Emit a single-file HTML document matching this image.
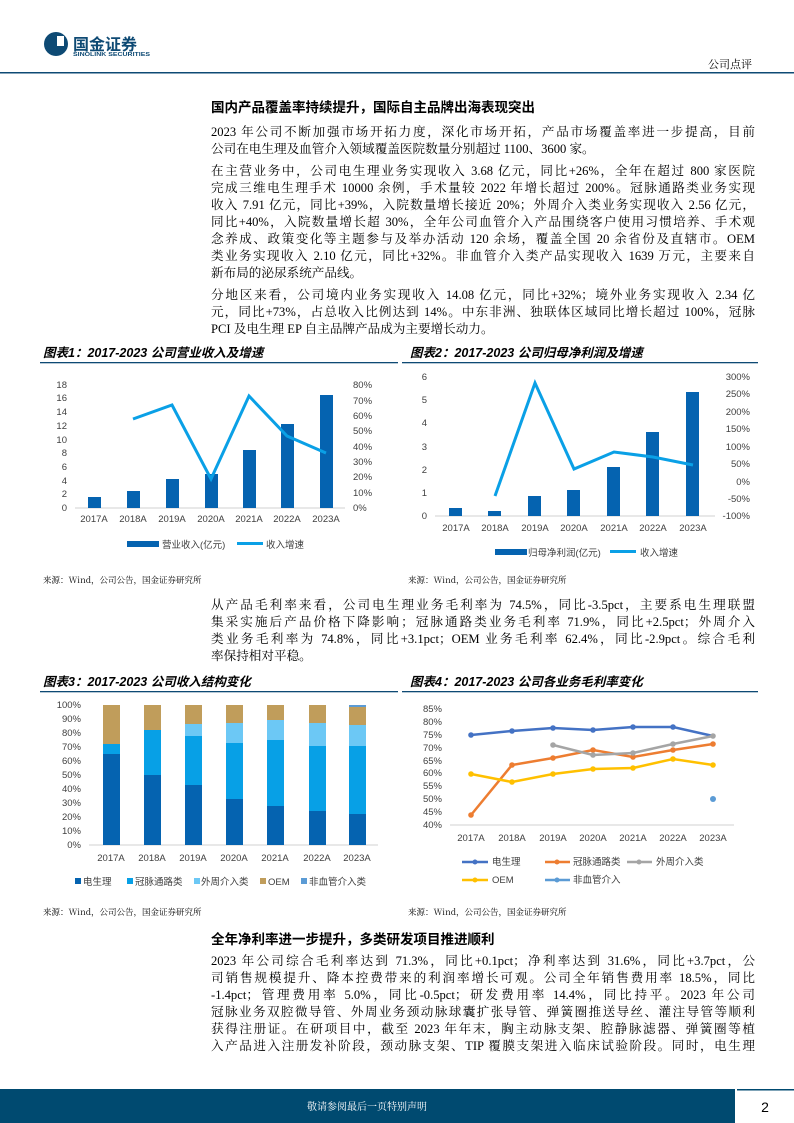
<!DOCTYPE html>
<html><head><meta charset="utf-8">
<style>
body{margin:0;background:#fff;}
#p{position:relative;width:794px;height:1123px;overflow:hidden;font-family:"Liberation Serif","Noto Serif CJK SC",serif;color:#000;}
.l{position:absolute;left:211px;width:544px;font-size:12.6px;line-height:17px;height:17px;text-align:justify;text-align-last:justify;white-space:nowrap;}
.n{text-align-last:left;}
.h{position:absolute;left:211px;font-size:13.5px;font-weight:bold;line-height:17px;font-family:"Liberation Sans","Noto Sans CJK SC",sans-serif;}
svg{position:absolute;left:0;top:0;}
svg text{font-family:"Liberation Sans","Noto Sans CJK SC",sans-serif;}
</style></head><body><div id="p">
<svg width="794" height="1123" viewBox="0 0 794 1123">
<!-- header -->
<circle cx="56" cy="44" r="12" fill="#0e4a74"/>
<rect x="57" y="36" width="7" height="10" fill="#fff"/>
<text x="73" y="50" font-size="16" font-weight="bold" fill="#0e4a74" textLength="64">国金证券</text>
<text x="73" y="56" font-size="5.5" font-weight="bold" fill="#0e4a74" textLength="77" lengthAdjust="spacingAndGlyphs">SINOLINK SECURITIES</text>
<text x="752" y="68" font-size="11" text-anchor="end" fill="#000" style="font-family:'Noto Serif CJK SC',serif">公司点评</text>
<rect x="0" y="72" width="794" height="1.5" fill="#0e4a74"/>
<!-- footer -->
<rect x="0" y="1089" width="735" height="34" fill="#004a70"/>
<rect x="737" y="1089" width="57" height="1.5" fill="#004a70"/>
<text x="367" y="1110" font-size="10" fill="#fff" text-anchor="middle" style="font-family:'Noto Serif CJK SC',serif">敬请参阅最后一页特别声明</text>
<text x="765" y="1112" font-size="14" fill="#000" text-anchor="middle">2</text>

<!-- chart titles -->
<g font-size="12.5" font-weight="bold" font-style="italic">
<text x="43" y="357">图表1：2017-2023 公司营业收入及增速</text>
<text x="410" y="357">图表2：2017-2023 公司归母净利润及增速</text>
<text x="43" y="686">图表3：2017-2023 公司收入结构变化</text>
<text x="410" y="686">图表4：2017-2023 公司各业务毛利率变化</text>
</g>
<g fill="#0e4a74">
<rect x="40" y="362" width="358" height="1.3"/><rect x="402" y="362" width="356" height="1.3"/>
<rect x="40" y="691" width="358" height="1.3"/><rect x="402" y="691" width="356" height="1.3"/>
</g>
<g font-size="8.5">
<text x="43" y="583" style="font-family:'Noto Serif CJK SC',serif">来源：Wind，公司公告，国金证券研究所</text>
<text x="408" y="583" style="font-family:'Noto Serif CJK SC',serif">来源：Wind，公司公告，国金证券研究所</text>
<text x="43" y="915" style="font-family:'Noto Serif CJK SC',serif">来源：Wind，公司公告，国金证券研究所</text>
<text x="408" y="915" style="font-family:'Noto Serif CJK SC',serif">来源：Wind，公司公告，国金证券研究所</text>
</g>

<!-- Chart 1 -->
<g font-size="9.5" fill="#404040">
<line x1="75" y1="508" x2="345" y2="508" stroke="#d0d0d0"/>
<g text-anchor="end">
<text x="67" y="511">0</text><text x="67" y="497">2</text><text x="67" y="484">4</text><text x="67" y="470">6</text><text x="67" y="456">8</text><text x="67" y="443">10</text><text x="67" y="429">12</text><text x="67" y="415">14</text><text x="67" y="401">16</text><text x="67" y="388">18</text>
</g>
<text x="353" y="511">0%</text><text x="353" y="496">10%</text><text x="353" y="480">20%</text><text x="353" y="465">30%</text><text x="353" y="450">40%</text><text x="353" y="434">50%</text><text x="353" y="419">60%</text><text x="353" y="404">70%</text><text x="353" y="388">80%</text>
<g fill="#0563b0">
<rect x="88" y="497" width="13" height="11"/><rect x="127" y="491" width="13" height="17"/><rect x="166" y="479" width="13" height="29"/><rect x="205" y="474" width="13" height="34"/><rect x="243" y="450" width="13" height="58"/><rect x="281" y="424" width="13" height="84"/><rect x="320" y="395" width="13" height="113"/>
</g>
<polyline points="133,419 172,405 211,479 249,396 287,436 326,453" fill="none" stroke="#0aa0e6" stroke-width="3"/>
<g text-anchor="middle"><text x="94" y="522">2017A</text><text x="133" y="522">2018A</text><text x="172" y="522">2019A</text><text x="211" y="522">2020A</text><text x="249" y="522">2021A</text><text x="287" y="522">2022A</text><text x="326" y="522">2023A</text></g>
<rect x="127" y="541" width="32" height="6" fill="#0563b0"/><text x="162" y="548">营业收入(亿元)</text>
<rect x="237" y="542" width="26" height="3" fill="#0aa0e6"/><text x="266" y="548">收入增速</text>
</g>

<!-- Chart 2 -->
<g font-size="9.5" fill="#404040">
<line x1="435" y1="516" x2="715" y2="516" stroke="#d0d0d0"/>
<g text-anchor="end">
<text x="427" y="519">0</text><text x="427" y="496">1</text><text x="427" y="473">2</text><text x="427" y="450">3</text><text x="427" y="426">4</text><text x="427" y="403">5</text><text x="427" y="380">6</text>
</g>
<g text-anchor="end"><text x="750" y="519">-100%</text><text x="750" y="502">-50%</text><text x="750" y="485">0%</text><text x="750" y="467">50%</text><text x="750" y="450">100%</text><text x="750" y="432">150%</text><text x="750" y="415">200%</text><text x="750" y="397">250%</text><text x="750" y="380">300%</text></g>
<g fill="#0563b0">
<rect x="449" y="508" width="13" height="8"/><rect x="488" y="511" width="13" height="5"/><rect x="528" y="496" width="13" height="20"/><rect x="567" y="490" width="13" height="26"/><rect x="607" y="467" width="13" height="49"/><rect x="646" y="432" width="13" height="84"/><rect x="686" y="392" width="13" height="124"/>
</g>
<polyline points="495,496 535,383 574,469 614,452 653,457 693,465" fill="none" stroke="#0aa0e6" stroke-width="3"/>
<g text-anchor="middle"><text x="456" y="531">2017A</text><text x="495" y="531">2018A</text><text x="535" y="531">2019A</text><text x="574" y="531">2020A</text><text x="614" y="531">2021A</text><text x="653" y="531">2022A</text><text x="693" y="531">2023A</text></g>
<rect x="495" y="549" width="32" height="6" fill="#0563b0"/><text x="528" y="556">归母净利润(亿元)</text>
<rect x="610" y="550" width="26" height="3" fill="#0aa0e6"/><text x="640" y="556">收入增速</text>
</g>

<!-- Chart 3 -->
<g font-size="9.5" fill="#404040">
<line x1="89" y1="845" x2="378" y2="845" stroke="#d0d0d0"/>
<g text-anchor="end">
<text x="81" y="848">0%</text><text x="81" y="834">10%</text><text x="81" y="820">20%</text><text x="81" y="806">30%</text><text x="81" y="792">40%</text><text x="81" y="778">50%</text><text x="81" y="764">60%</text><text x="81" y="750">70%</text><text x="81" y="736">80%</text><text x="81" y="722">90%</text><text x="81" y="708">100%</text>
</g>
<g>
<rect x="103" y="705" width="17" height="140" fill="#c09d5b"/><rect x="103" y="744" width="17" height="101" fill="#07a0e6"/><rect x="103" y="754" width="17" height="91" fill="#0563b0"/>
<rect x="144" y="705" width="17" height="140" fill="#c09d5b"/><rect x="144" y="730" width="17" height="115" fill="#07a0e6"/><rect x="144" y="775" width="17" height="70" fill="#0563b0"/>
<rect x="185" y="705" width="17" height="140" fill="#c09d5b"/><rect x="185" y="724" width="17" height="121" fill="#6cc8f5"/><rect x="185" y="736" width="17" height="109" fill="#07a0e6"/><rect x="185" y="785" width="17" height="60" fill="#0563b0"/>
<rect x="226" y="705" width="17" height="140" fill="#c09d5b"/><rect x="226" y="723" width="17" height="122" fill="#6cc8f5"/><rect x="226" y="743" width="17" height="102" fill="#07a0e6"/><rect x="226" y="799" width="17" height="46" fill="#0563b0"/>
<rect x="267" y="705" width="17" height="140" fill="#c09d5b"/><rect x="267" y="720" width="17" height="125" fill="#6cc8f5"/><rect x="267" y="740" width="17" height="105" fill="#07a0e6"/><rect x="267" y="806" width="17" height="39" fill="#0563b0"/>
<rect x="309" y="705" width="17" height="140" fill="#c09d5b"/><rect x="309" y="723" width="17" height="122" fill="#6cc8f5"/><rect x="309" y="746" width="17" height="99" fill="#07a0e6"/><rect x="309" y="811" width="17" height="34" fill="#0563b0"/>
<rect x="349" y="705" width="17" height="140" fill="#5b9bd5"/><rect x="349" y="707" width="17" height="138" fill="#c09d5b"/><rect x="349" y="725" width="17" height="120" fill="#6cc8f5"/><rect x="349" y="746" width="17" height="99" fill="#07a0e6"/><rect x="349" y="814" width="17" height="31" fill="#0563b0"/>
</g>
<g text-anchor="middle"><text x="111" y="861">2017A</text><text x="152" y="861">2018A</text><text x="193" y="861">2019A</text><text x="234" y="861">2020A</text><text x="275" y="861">2021A</text><text x="317" y="861">2022A</text><text x="357" y="861">2023A</text></g>
<rect x="75" y="878" width="6" height="6" fill="#0563b0"/><text x="83" y="885">电生理</text>
<rect x="127" y="878" width="6" height="6" fill="#07a0e6"/><text x="135" y="885">冠脉通路类</text>
<rect x="194" y="878" width="6" height="6" fill="#6cc8f5"/><text x="201" y="885">外周介入类</text>
<rect x="260" y="878" width="6" height="6" fill="#c09d5b"/><text x="268" y="885">OEM</text>
<rect x="301" y="878" width="6" height="6" fill="#5b9bd5"/><text x="309" y="885">非血管介入类</text>
</g>

<!-- Chart 4 -->
<g font-size="9.5" fill="#404040">
<line x1="450" y1="825" x2="734" y2="825" stroke="#d0d0d0"/>
<g text-anchor="end">
<text x="442" y="828">40%</text><text x="442" y="815">45%</text><text x="442" y="802">50%</text><text x="442" y="789">55%</text><text x="442" y="776">60%</text><text x="442" y="764">65%</text><text x="442" y="751">70%</text><text x="442" y="738">75%</text><text x="442" y="725">80%</text><text x="442" y="712">85%</text>
</g>
<g fill="none" stroke-width="2.5">
<polyline points="471,735 512,731 553,728 593,730 633,727 673,727 713,736" stroke="#4472c4"/>
<polyline points="471,815 512,765 553,758 593,750 633,757 673,750 713,744" stroke="#ed7d31"/>
<polyline points="553,745 593,755 633,753 673,744 713,736" stroke="#a5a5a5"/>
<polyline points="471,774 512,782 553,774 593,769 633,768 673,759 713,765" stroke="#ffc000"/>
</g>
<g fill="#4472c4"><circle cx="471" cy="735" r="2.8"/><circle cx="512" cy="731" r="2.8"/><circle cx="553" cy="728" r="2.8"/><circle cx="593" cy="730" r="2.8"/><circle cx="633" cy="727" r="2.8"/><circle cx="673" cy="727" r="2.8"/></g>
<g fill="#ed7d31"><circle cx="471" cy="815" r="2.8"/><circle cx="512" cy="765" r="2.8"/><circle cx="553" cy="758" r="2.8"/><circle cx="593" cy="750" r="2.8"/><circle cx="633" cy="757" r="2.8"/><circle cx="673" cy="750" r="2.8"/><circle cx="713" cy="744" r="2.8"/></g>
<g fill="#a5a5a5"><circle cx="553" cy="745" r="2.8"/><circle cx="593" cy="755" r="2.8"/><circle cx="633" cy="753" r="2.8"/><circle cx="673" cy="744" r="2.8"/><circle cx="713" cy="736" r="2.8"/></g>
<g fill="#ffc000"><circle cx="471" cy="774" r="2.8"/><circle cx="512" cy="782" r="2.8"/><circle cx="553" cy="774" r="2.8"/><circle cx="593" cy="769" r="2.8"/><circle cx="633" cy="768" r="2.8"/><circle cx="673" cy="759" r="2.8"/><circle cx="713" cy="765" r="2.8"/></g>
<circle cx="713" cy="799" r="3" fill="#5b9bd5"/>
<g text-anchor="middle"><text x="471" y="841">2017A</text><text x="512" y="841">2018A</text><text x="553" y="841">2019A</text><text x="593" y="841">2020A</text><text x="633" y="841">2021A</text><text x="673" y="841">2022A</text><text x="713" y="841">2023A</text></g>
<line x1="462" y1="862" x2="488" y2="862" stroke="#4472c4" stroke-width="2.5"/><circle cx="475" cy="862" r="2.5" fill="#4472c4"/><text x="492" y="865">电生理</text>
<line x1="545" y1="862" x2="570" y2="862" stroke="#ed7d31" stroke-width="2.5"/><circle cx="557" cy="862" r="2.5" fill="#ed7d31"/><text x="573" y="865">冠脉通路类</text>
<line x1="627" y1="862" x2="652" y2="862" stroke="#a5a5a5" stroke-width="2.5"/><circle cx="639" cy="862" r="2.5" fill="#a5a5a5"/><text x="656" y="865">外周介入类</text>
<line x1="462" y1="880" x2="488" y2="880" stroke="#ffc000" stroke-width="2.5"/><circle cx="475" cy="880" r="2.5" fill="#ffc000"/><text x="492" y="883">OEM</text>
<line x1="545" y1="880" x2="570" y2="880" stroke="#5b9bd5" stroke-width="2.5"/><circle cx="557" cy="880" r="2.5" fill="#5b9bd5"/><text x="573" y="883">非血管介入</text>
</g>
</svg>

<div class="h" style="top:99px">国内产品覆盖率持续提升，国际自主品牌出海表现突出</div>
<div class="l" style="top:124px">2023 年公司不断加强市场开拓力度，深化市场开拓，产品市场覆盖率进一步提高，目前</div>
<div class="l n" style="top:141px">公司在电生理及血管介入领域覆盖医院数量分别超过 1100、3600 家。</div>
<div class="l" style="top:163px">在主营业务中，公司电生理业务实现收入 3.68 亿元，同比+26%，全年在超过 800 家医院</div>
<div class="l" style="top:180px">完成三维电生理手术 10000 余例，手术量较 2022 年增长超过 200%。冠脉通路类业务实现</div>
<div class="l" style="top:197px">收入 7.91 亿元，同比+39%，入院数量增长接近 20%；外周介入类业务实现收入 2.56 亿元，</div>
<div class="l" style="top:214px">同比+40%，入院数量增长超 30%，全年公司血管介入产品围绕客户使用习惯培养、手术观</div>
<div class="l" style="top:231px">念养成、政策变化等主题参与及举办活动 120 余场，覆盖全国 20 余省份及直辖市。OEM</div>
<div class="l" style="top:248px">类业务实现收入 2.10 亿元，同比+32%。非血管介入类产品实现收入 1639 万元，主要来自</div>
<div class="l n" style="top:265px">新布局的泌尿系统产品线。</div>
<div class="l" style="top:287px">分地区来看，公司境内业务实现收入 14.08 亿元，同比+32%；境外业务实现收入 2.34 亿</div>
<div class="l" style="top:304px">元，同比+73%，占总收入比例达到 14%。中东非洲、独联体区域同比增长超过 100%，冠脉</div>
<div class="l n" style="top:321px">PCI 及电生理 EP 自主品牌产品成为主要增长动力。</div>

<div class="l" style="top:597px">从产品毛利率来看，公司电生理业务毛利率为 74.5%，同比-3.5pct，主要系电生理联盟</div>
<div class="l" style="top:614px">集采实施后产品价格下降影响；冠脉通路类业务毛利率 71.9%，同比+2.5pct；外周介入</div>
<div class="l" style="top:631px">类业务毛利率为 74.8%，同比+3.1pct；OEM 业务毛利率 62.4%，同比-2.9pct。综合毛利</div>
<div class="l n" style="top:648px">率保持相对平稳。</div>

<div class="h" style="top:931px">全年净利率进一步提升，多类研发项目推进顺利</div>
<div class="l" style="top:953px">2023 年公司综合毛利率达到 71.3%，同比+0.1pct；净利率达到 31.6%，同比+3.7pct，公</div>
<div class="l" style="top:970px">司销售规模提升、降本控费带来的利润率增长可观。公司全年销售费用率 18.5%，同比</div>
<div class="l" style="top:987px">-1.4pct；管理费用率 5.0%，同比-0.5pct；研发费用率 14.4%，同比持平。2023 年公司</div>
<div class="l" style="top:1004px">冠脉业务双腔微导管、外周业务颈动脉球囊扩张导管、弹簧圈推送导丝、灌注导管等顺利</div>
<div class="l" style="top:1021px">获得注册证。在研项目中，截至 2023 年年末，胸主动脉支架、腔静脉滤器、弹簧圈等植</div>
<div class="l" style="top:1038px">入产品进入注册发补阶段，颈动脉支架、TIP 覆膜支架进入临床试验阶段。同时，电生理</div>
</div></body></html>
